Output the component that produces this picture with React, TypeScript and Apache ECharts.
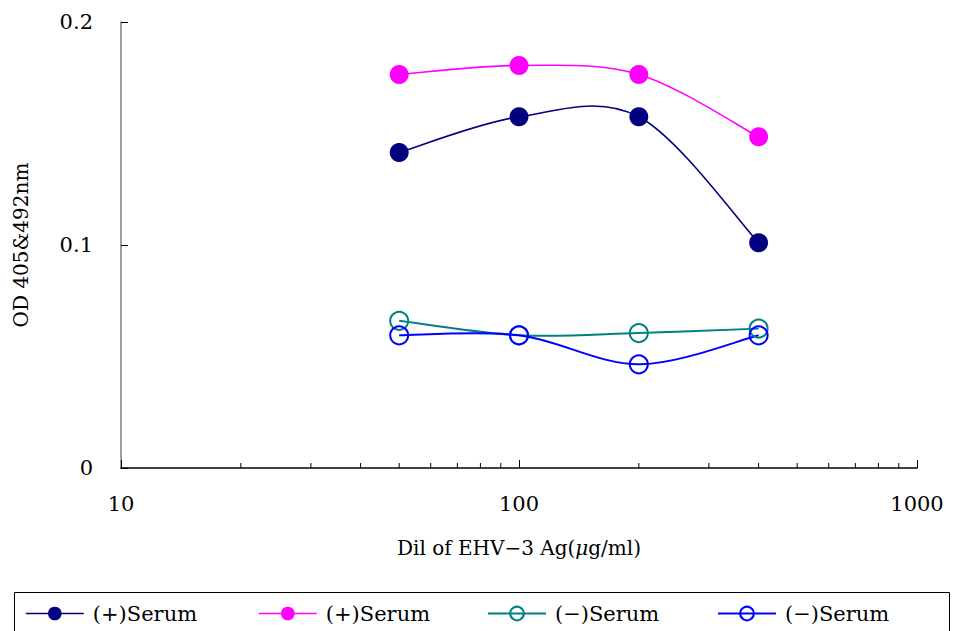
import React, { useEffect, useRef } from "react";
import * as echarts from "echarts";

const xValues = [50, 100, 200, 400];
const posSerumA = [0.1415, 0.1575, 0.1575, 0.101];
const posSerumB = [0.1765, 0.1805, 0.1765, 0.1485];
const negSerumA = [0.066, 0.0595, 0.0605, 0.0625];
const negSerumB = [0.0595, 0.0595, 0.0465, 0.0595];
const minorTicks = [20, 30, 40, 50, 60, 70, 80, 90, 200, 300, 400, 500, 600, 700, 800, 900];
const legendLabels = ["(+)Serum", "(+)Serum", "(−)Serum", "(−)Serum"];
const seriesKeys = ["s1", "s2", "s3", "s4"];
const colors = ["#000080", "#FF00FF", "#008080", "#0000FF"];

const FONT = "DejaVu Serif";

export default function App() {
  const ref = useRef<HTMLDivElement>(null);
  useEffect(() => {
    if (!ref.current) return;
    const chart = echarts.init(ref.current, undefined, { renderer: "svg" });
    const pair = (ys: number[]) => xValues.map((x, i) => [x, ys[i]]);
    const allY = [posSerumA, posSerumB, negSerumA, negSerumB];

    const markerSeries = (i: number, filled: boolean) => ({
      name: seriesKeys[i],
      type: "line",
      data: pair(allY[i]),
      symbol: "circle",
      symbolSize: filled ? 19 : 18,
      lineStyle: { color: colors[i], width: filled ? 1.6 : 2, opacity: 0 },
      itemStyle: filled
        ? { color: colors[i], borderColor: colors[i], borderWidth: 0 }
        : { color: "rgba(0,0,0,0)", borderColor: colors[i], borderWidth: 2 },
      z: 4,
    });

    const curveSeries = (i: number, width: number) => ({
      type: "custom",
      data: pair(allY[i]),
      silent: true,
      z: 3,
      renderItem: (p: any, api: any) => {
        if (p.dataIndex !== 0) return null;
        const pts = xValues.map((x, k) => api.coord([x, allY[i][k]]));
        let d = `M${pts[0][0]},${pts[0][1]}`;
        for (let k = 0; k < pts.length - 1; k++) {
          const p0 = pts[Math.max(0, k - 1)];
          const p1 = pts[k];
          const p2 = pts[k + 1];
          const p3 = pts[Math.min(pts.length - 1, k + 2)];
          const c1x = p1[0] + (p2[0] - p0[0]) / 6;
          const c1y = p1[1] + (p2[1] - p0[1]) / 6;
          const c2x = p2[0] - (p3[0] - p1[0]) / 6;
          const c2y = p2[1] - (p3[1] - p1[1]) / 6;
          d += ` C${c1x},${c1y} ${c2x},${c2y} ${p2[0]},${p2[1]}`;
        }
        return {
          type: "path",
          shape: { pathData: d },
          style: { stroke: colors[i], fill: "none", lineWidth: width },
        };
      },
    });

    const legendLefts = [20, 253, 482, 712];
    const option: any = {
      animation: false,
      backgroundColor: "#ffffff",
      textStyle: { fontFamily: FONT },
      grid: { left: 121, top: 22, width: 796, height: 446 },
      xAxis: {
        type: "log",
        logBase: 10,
        min: 10,
        max: 1000,
        name: "Dil of EHV−3 Ag({i|μ}g/ml)",
        nameLocation: "middle",
        nameGap: 70,
        nameTextStyle: {
          fontFamily: FONT,
          fontSize: 20,
          color: "#000",
          rich: { i: { fontStyle: "italic", fontFamily: FONT, fontSize: 20, color: "#000" } },
        },
        axisLine: { lineStyle: { color: "#000", width: 1.5 } },
        axisTick: { inside: true, length: 8, lineStyle: { color: "#000" } },
        axisLabel: {
          fontFamily: FONT,
          fontSize: 21,
          color: "#000",
          margin: 25,
          formatter: (v: number) => String(Math.round(v)),
        },
        splitLine: { show: false },
        minorTick: { show: false },
      },
      yAxis: {
        type: "value",
        min: 0,
        max: 0.2,
        interval: 0.1,
        name: "OD 405&492nm",
        nameLocation: "middle",
        nameRotate: 90,
        nameGap: 90,
        nameTextStyle: { fontFamily: FONT, fontSize: 20, color: "#000" },
        axisLine: { show: true, lineStyle: { color: "#808080", width: 1.5 } },
        axisTick: { show: true, inside: true, length: 7, lineStyle: { color: "#000" } },
        axisLabel: {
          fontFamily: FONT,
          fontSize: 21,
          color: "#000",
          margin: 28,
          formatter: (v: number) => (v === 0 ? "0" : v.toFixed(1)),
        },
        splitLine: { show: false },
      },
      legend: seriesKeys.map((k, i) => ({
        data: [
          {
            name: k,
            lineStyle: { color: colors[i], width: i < 2 ? 1.6 : 2, opacity: 1 },
          },
        ],
        left: legendLefts[i],
        top: 598,
        itemWidth: 58,
        itemHeight: 17,
        itemGap: 0,
        formatter: () => legendLabels[i],
        textStyle: { fontFamily: FONT, fontSize: 21, color: "#000", padding: [0, 0, 0, 4] },
        selectedMode: false,
      })),
      graphic: [
        {
          type: "rect",
          shape: { x: 14.5, y: 592.5, width: 935, height: 60 },
          style: { fill: "none", stroke: "#000", lineWidth: 1 },
          silent: true,
          z: -1,
        },
      ],
      series: [
        curveSeries(0, 1.6),
        curveSeries(1, 1.6),
        curveSeries(2, 2),
        curveSeries(3, 2),
        markerSeries(0, true),
        markerSeries(1, true),
        markerSeries(2, false),
        markerSeries(3, false),
        {
          type: "custom",
          data: minorTicks.map((v) => [v, 0]),
          clip: false,
          silent: true,
          renderItem: (_p: any, api: any) => {
            const pt = api.coord([api.value(0), 0]);
            return {
              type: "line",
              shape: { x1: pt[0], y1: pt[1], x2: pt[0], y2: pt[1] - 5 },
              style: { stroke: "#000", lineWidth: 1 },
            };
          },
        },
      ],
    };
    chart.setOption(option);
    return () => chart.dispose();
  }, []);
  return (
    <div
      ref={ref}
      style={{ position: "fixed", left: 0, top: 0, width: 955, height: 631, background: "#fff" }}
    />
  );
}
